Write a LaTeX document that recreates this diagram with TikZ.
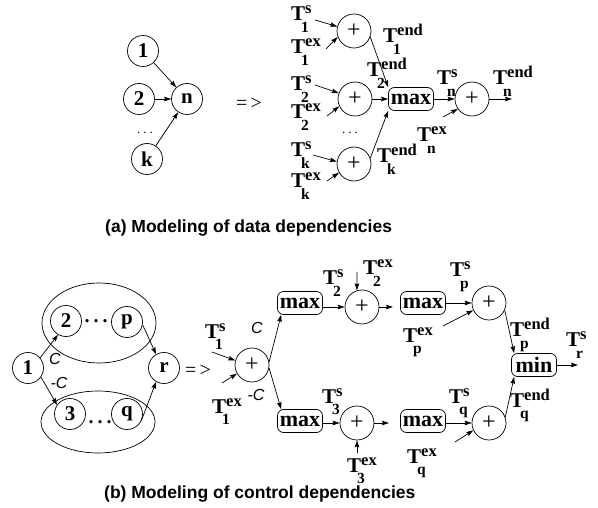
\documentclass[tikz,border=0pt]{standalone}
\usepackage{fontspec}
\setmainfont{Liberation Serif}
\newfontfamily\capfont{Liberation Sans}
\usetikzlibrary{arrows.meta}

% T with stacked superscript and subscript, as in the timing labels
\newcommand\TL[2]{{\bfseries\fontsize{21}{21}\selectfont T\rlap{\raisebox{7pt}{\fontsize{16.5}{16.5}\selectfont #1}}\hspace{-4pt}\raisebox{-11.5pt}{\fontsize{15.5}{15.5}\selectfont #2}}}

\tikzset{
  gnode/.style={circle, draw, line width=0.7pt, minimum size=31pt, inner sep=0pt,
                font=\bfseries\fontsize{21}{21}\selectfont},
  pnode/.style={circle, draw, line width=0.7pt, minimum size=34pt, inner sep=0pt,
                font=\fontsize{24}{24}\selectfont},
  opbox/.style={draw, line width=0.7pt, rounded corners=6pt, minimum width=45pt,
                minimum height=23pt, inner sep=0pt, font=\bfseries\fontsize{22}{22}\selectfont},
  lab/.style={anchor=base west, inner sep=0pt},
  arr/.style={line width=0.7pt, -{Stealth[length=7pt,width=4.5pt,inset=1pt]}},
  cond/.style={inner sep=0pt, font=\capfont\itshape\fontsize{16}{16}\selectfont},
  captxt/.style={anchor=base west, inner sep=0pt, font=\capfont\bfseries\fontsize{17.5}{17.5}\selectfont},
  impl/.style={inner sep=0pt, font=\fontsize{20}{20}\selectfont},
  sdots/.style={inner sep=0pt, font=\fontsize{13}{13}\selectfont},
  bdots/.style={inner sep=0pt, font=\bfseries\fontsize{20}{20}\selectfont}
}

\begin{document}
\begin{tikzpicture}[x=1pt, y=-1pt]
\useasboundingbox (0,0) rectangle (598,508);

% ---------------- (a) data dependencies ----------------
\node[gnode] (g1) at (143,51) {1};
\node[gnode] (g2) at (139,99) {2};
\node[gnode] (gn) at (187,99) {n};
\node[gnode] (gk) at (147,159) {k};
\node[sdots] (gd) at (145,133) {.\hspace{3pt}.\hspace{3pt}.};
\draw[arr] (g1) -- (gn);
\draw[arr] (g2) -- (gn);
\draw[arr] (gk) -- (gn);

\node[impl] (ia) at (249,104) {=\,>};

\node[pnode] (p1) at (354,31) {+};
\node[pnode] (p2) at (355,99) {+};
\node[pnode] (pk) at (354,164) {+};
\node[sdots] (pd) at (350,133) {.\hspace{3pt}.\hspace{3pt}.};
\node[opbox] (mx) at (411,99) {max};
\node[pnode] (pn) at (472,99) {+};
\coordinate (outn) at (512,99);

\node[lab] (ts1) at (291,21) {\TL{s}{1}};
\node[lab] (te1) at (291,54) {\TL{ex}{1}};
\node[lab] (ts2) at (291,91) {\TL{s}{2}};
\node[lab] (te2) at (291,119) {\TL{ex}{2}};
\node[lab] (tsk) at (291,157) {\TL{s}{k}};
\node[lab] (tek) at (291,188) {\TL{ex}{k}};
\coordinate (as1) at (315,20);
\coordinate (ae1) at (326,49);
\coordinate (as2) at (315,85);
\coordinate (ae2) at (327,116);
\coordinate (ask) at (313,155);
\coordinate (aek) at (327,181);
\draw[arr] (as1) -- (p1.165);
\draw[arr] (ae1) -- (p1.200);
\draw[arr] (as2) -- (p2.160);
\draw[arr] (ae2) -- (p2.205);
\draw[arr] (ask) -- (pk.172);
\draw[arr] (aek) -- (pk.210);

\draw[arr] (p1.-20) -- (mx.north west);
\draw[arr] (p2) -- (mx);
\draw[arr] (pk.20) -- (mx.south west);
\draw[arr] (mx) -- (pn);
\draw[arr] (pn) -- (outn);
\coordinate (aen) at (443,117);
\draw[arr] (aen) -- (pn.215);

\node[lab] (tend1) at (383,43) {\TL{end}{1}};
\node[lab] (tend2) at (367,77) {\TL{end}{2}};
\node[lab] (tendk) at (377,163) {\TL{end}{k}};
\node[lab] (tsn) at (437,85) {\TL{s}{n}};
\node[lab] (tendn) at (493,85) {\TL{end}{n}};
\node[lab] (texn) at (417,142) {\TL{ex}{n}};

\node[captxt] (capa) at (105,233) {(a) Modeling of data dependencies};

% ---------------- (b) control dependencies ----------------
\draw[line width=0.7pt] (99,323) ellipse [x radius=57pt, y radius=40pt];
\draw[line width=0.7pt] (98,422) ellipse [x radius=57pt, y radius=31pt];
\node[gnode] (b1) at (28,368) {1};
\node[gnode] (b2) at (66,321) {2};
\node[gnode] (bp) at (127,322) {p};
\node[gnode] (b3) at (70,414) {3};
\node[gnode] (bq) at (127,414) {q};
\node[gnode] (br) at (164,368) {r};
\node[bdots] (bd1) at (96,321) {.\hspace{4pt}.\hspace{4pt}.};
\node[bdots] (bd2) at (100,422) {.\hspace{4pt}.\hspace{4pt}.};
\draw[arr] (b1.40) -- (b2.240);
\draw[arr] (b1.-35) -- (b3.145);
\draw[arr] (bp.-10) -- (br.120);
\draw[arr] (bq.-25) -- (br.240);
\node[cond] (c1) at (55,359) {C};
\node[cond] (c2) at (59,383) {-C};

\node[impl] (ib) at (198,371) {=\,>};

\node[pnode] (q1) at (252,365) {+};
\node[lab] (bts1) at (205,338) {\TL{s}{1}};
\node[lab] (bte1) at (212,413) {\TL{ex}{1}};
\coordinate (bas1) at (212,352);
\coordinate (bae1) at (222,383);
\draw[arr] (bas1) -- (q1.165);
\draw[arr] (bae1) -- (q1.210);
\node[cond] (c3) at (257,328) {C};
\node[cond] (c4) at (256,395) {-C};

\node[opbox] (mA) at (300,303) {max};
\node[opbox] (mB) at (300,421) {max};
\draw[arr] (q1.10) -- ([xshift=4pt]mA.south west);
\draw[arr] (q1.-10) -- ([xshift=4pt]mB.north west);

% upper branch
\node[pnode] (pA) at (362,307) {+};
\draw[arr] (mA.east |- pA) -- (pA);
\node[lab] (bts2) at (323,285) {\TL{s}{2}};
\node[lab] (bte2) at (363,275) {\TL{ex}{2}};
\coordinate (bae2) at (357,272);
\draw[arr] (bae2) -- (pA.107);
\coordinate (fA) at (393,307);
\draw[arr] (pA) -- (fA);
\node[opbox] (mC) at (423,303) {max};
\node[pnode] (pP) at (489,303) {+};
\draw[arr] (mC) -- (pP);
\node[lab] (btsp) at (450,277) {\TL{s}{p}};
\node[lab] (btep) at (403,342) {\TL{ex}{p}};
\coordinate (baep) at (443,326);
\draw[arr] (baep) -- (pP.205);

% lower branch
\node[pnode] (pB) at (357,423) {+};
\draw[arr] (mB.east |- pB) -- (pB);
\node[lab] (bts3) at (322,403) {\TL{s}{3}};
\node[lab] (bte3) at (347,472) {\TL{ex}{3}};
\coordinate (bae3) at (357,453);
\draw[arr] (bae3) -- (pB.south);
\coordinate (fB) at (389,423);
\draw[arr] (pB) -- (fB);
\node[opbox] (mD) at (423,421) {max};
\node[pnode] (pQ) at (489,423) {+};
\draw[arr] (mD.east |- pQ) -- (pQ);
\node[lab] (btsq) at (449,403) {\TL{s}{q}};
\node[lab] (bteq) at (407,463) {\TL{ex}{q}};
\coordinate (baeq) at (455,442);
\draw[arr] (baeq) -- (pQ.205);

% join
\node[opbox] (mn) at (534,365) {min};
\draw[arr] (pP.-25) -- ([xshift=3pt]mn.north west);
\draw[arr] (pQ.20) -- ([xshift=3pt]mn.south west);
\coordinate (outr) at (578,365);
\draw[arr] (mn) -- (outr);
\node[lab] (btendp) at (510,337) {\TL{end}{p}};
\node[lab] (btendq) at (510,407) {\TL{end}{q}};
\node[lab] (btsr) at (566,347) {\TL{s}{r}};

\node[captxt] (capb) at (104,498) {(b) Modeling of control dependencies};
\end{tikzpicture}
\end{document}
